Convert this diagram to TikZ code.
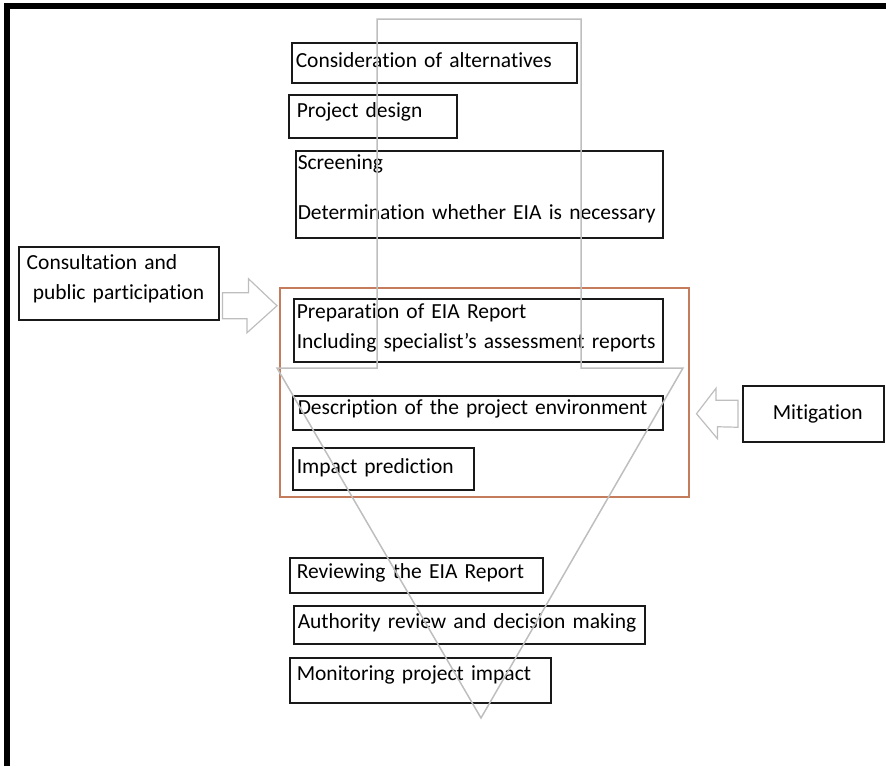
\documentclass[tikz,border=0pt]{standalone}
\usepackage{fontspec}
\setmainfont{Carlito}[WordSpace=0.85, Ligatures=NoCommon]
\usepackage{tikz}

\definecolor{eiaorange}{RGB}{197,124,92}
\definecolor{guidegray}{RGB}{190,190,190}
\newcommand{\stagefont}{\fontsize{21.5pt}{30pt}\selectfont}

\tikzset{
	stage/.style={draw=black!90, line width=1.5pt, anchor=north west, inner ysep=0pt, align=left, font=\stagefont},
	eiaframe/.style={draw=eiaorange, line width=1.5pt, anchor=north west, inner sep=0pt},
	blockarrow/.style={draw=guidegray, line width=1.2pt, fill=white},
	funnel/.style={draw=guidegray, line width=1.5pt}
}

\begin{document}
\begin{tikzpicture}[x=1pt,y=-1pt]
	\useasboundingbox (0,0) rectangle (886,766);
	%frame
	\draw[line width=6pt] (6.5,766) -- (6.5,6) -- (886,6);
	
	%report frame
	\node[eiaframe, minimum width=409pt, minimum height=209pt] (eiabox) at (279,287) {};
	
	%stages
	\node[stage, inner xsep=4pt, text width=277pt, text height=25pt, text depth=15pt] (cons) at (291,42) {\mbox{Consideration of alternatives}};
	\node[stage, inner xsep=8pt, text width=152pt, text height=23pt, text depth=20pt] (design) at (288,94) {\mbox{Project design}};
	\node[stage, inner xsep=2pt, text width=363pt, text height=19pt, text depth=68pt] (screen) at (295,150) {\mbox{Screening}\\[20pt]\mbox{Determination whether EIA is necessary}};
	\node[stage, inner xsep=3pt, text width=363pt, text height=20pt, text depth=43pt] (prep) at (293,298) {\mbox{Preparation of EIA Report}\\\mbox{Including specialist’s assessment reports}};
	\node[stage, inner xsep=5pt, text width=360pt, text height=19pt, text depth=15pt] (desc) at (292,395) {\mbox{Description of the project environment}};
	\node[stage, inner xsep=4pt, text width=173pt, text height=26pt, text depth=16pt] (impact) at (292,447) {\mbox{Impact prediction}};
	\node[stage, inner xsep=7pt, text width=239pt, text height=21pt, text depth=14pt] (review) at (289,557) {\mbox{Reviewing the EIA Report}};
	\node[stage, inner xsep=4pt, text width=343pt, text height=23pt, text depth=15pt] (authority) at (293,605) {\mbox{Authority review and decision making}};
	\node[stage, inner xsep=7pt, text width=247pt, text height=23pt, text depth=22pt] (monitor) at (289,657) {\mbox{Monitoring project impact}};
	
	%side inputs
	\node[stage, inner xsep=8pt, text width=184pt, text height=23pt, text depth=50pt] (consult) at (18,246) {\mbox{Consultation and}\\\mbox{\hspace*{6pt}public participation}};
	\node[stage, inner xsep=0pt, text width=141pt, text height=34pt, text depth=22pt] (mitig) at (742,385) {\mbox{\hspace*{30pt}Mitigation}};
	
	%block arrows into the report frame
	\coordinate (consultout) at ([xshift=3pt,yshift=-22.5pt]consult.east);
	\coordinate (mitigout) at ([xshift=-4pt]mitig.west);
	\draw[blockarrow] (consultout) ++(0,-13) -- ++(26,0) -- ++(0,-14) -- ([xshift=-2pt]eiabox.west |- consultout) -- ++(-30,27) -- ++(0,-14) -- ([yshift=-13pt]consultout) -- cycle;
	\draw[blockarrow] (mitigout) ++(0,-13.5) -- ++(-22,0) -- ++(0,-12) -- ([xshift=7pt]eiabox.east |- mitigout) -- ++(21,25) -- ++(0,-12) -- ([yshift=-13.5pt]mitigout) -- cycle;
	
	%funnel outline
	\draw[funnel] (377,368) -- (377,19) -- (581,19) -- (581,368) -- (683,368) -- (481,718) -- (277,368) -- cycle;
\end{tikzpicture}
\end{document}
